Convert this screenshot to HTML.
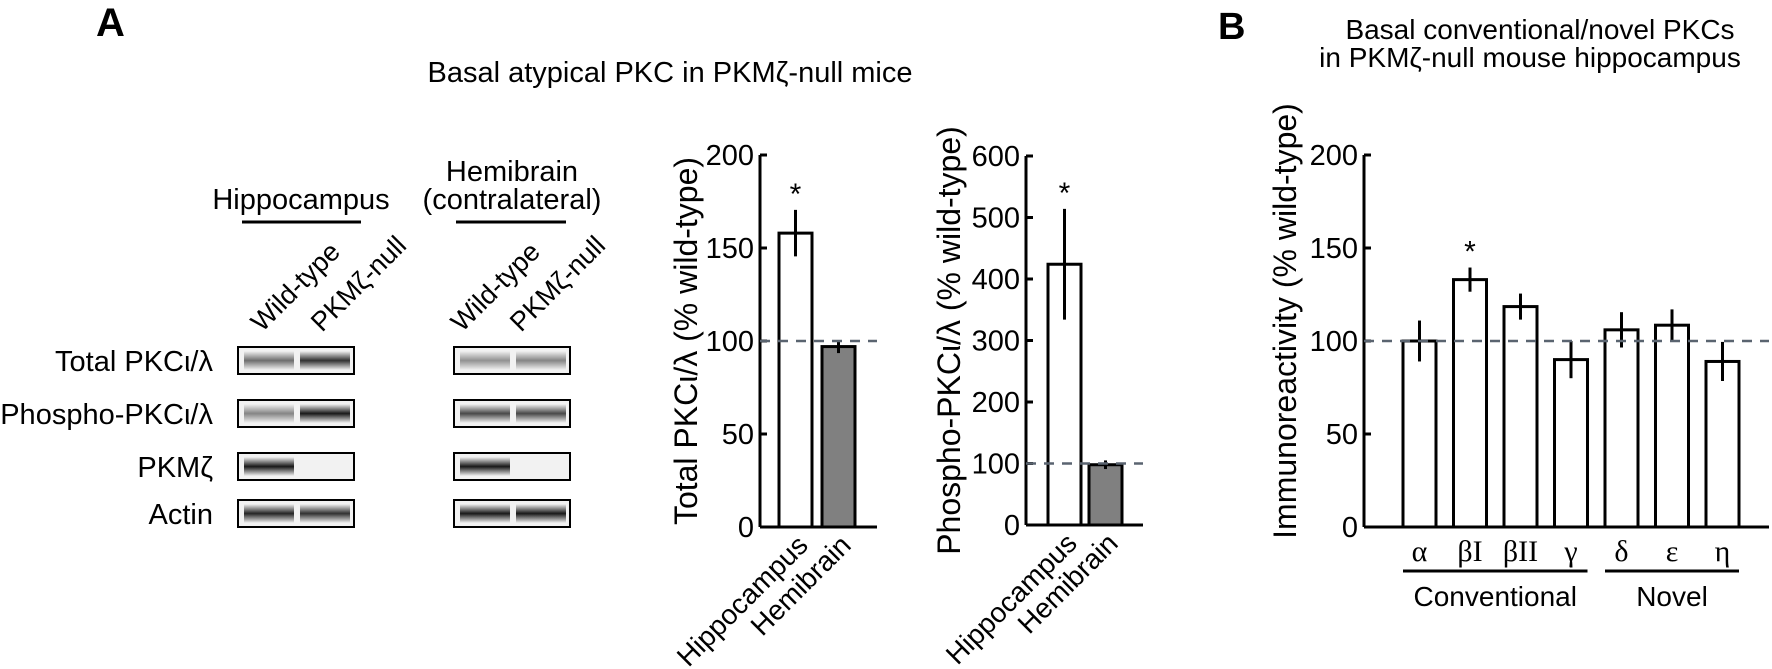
<!DOCTYPE html>
<html><head><meta charset="utf-8"><style>
html,body{margin:0;padding:0;background:#fff;}
svg{display:block;font-family:"Liberation Sans","Noto Sans CJK JP",sans-serif;}
</style></head><body>
<svg id="fig" width="1772" height="669" viewBox="0 0 1772 669" xmlns="http://www.w3.org/2000/svg">
<defs>
<linearGradient id="bandg" x1="0" y1="0" x2="0" y2="1"><stop offset="0" stop-color="#000" stop-opacity="0"/><stop offset="0.5" stop-color="#000" stop-opacity="1"/><stop offset="1" stop-color="#000" stop-opacity="0"/></linearGradient>
</defs>
<text x="96" y="36" font-size="40" font-weight="bold">A</text>
<text x="1218" y="39" font-size="38" font-weight="bold">B</text>
<text x="670" y="82" font-size="29" text-anchor="middle">Basal atypical PKC in PKMζ-null mice</text>
<text x="1540" y="39" font-size="28" text-anchor="middle">Basal conventional/novel PKCs</text>
<text x="1530" y="67" font-size="28" text-anchor="middle">in PKMζ-null mouse hippocampus</text>

<!-- Blots -->
<g id="blots">
<text x="301" y="209" font-size="29" text-anchor="middle">Hippocampus</text>
<line x1="242" y1="222" x2="361" y2="222" stroke="#000" stroke-width="3"/>
<text x="512" y="181" font-size="29" text-anchor="middle">Hemibrain</text>
<text x="512" y="209" font-size="29" text-anchor="middle">(contralateral)</text>
<line x1="456" y1="222" x2="566" y2="222" stroke="#000" stroke-width="3"/>
<text transform="translate(262,333) rotate(-45)" font-size="27">Wild-type</text>
<text transform="translate(322,333) rotate(-45)" font-size="27">PKMζ-null</text>
<text transform="translate(462,333) rotate(-45)" font-size="27">Wild-type</text>
<text transform="translate(521,333) rotate(-45)" font-size="27">PKMζ-null</text>
</g>

<g id="chart1"></g>
<g id="chart2"></g>
<g id="chart3"></g>
</svg>
<script>
// Blot data
const blotRows = ["Total PKCι/λ","Phospho-PKCι/λ","PKMζ","Actin"];
const blotHippo = [[0.55,0.8],[0.45,0.9],[0.9,0.0],[0.85,0.8]];
const blotHemi = [[0.4,0.45],[0.7,0.7],[0.9,0.0],[0.9,0.9]];

// Chart 1
const c1Cats = ["Hippocampus","Hemibrain"];
const c1Vals = [158,97];
const c1Errs = [12.5,3.5];
const c1Ticks = [0,50,100,150,200];
// Chart 2
const c2Cats = ["Hippocampus","Hemibrain"];
const c2Vals = [424,98];
const c2Errs = [90,7];
const c2Ticks = [0,100,200,300,400,500,600];
// Chart 3
const c3Cats = ["α","βI","βII","γ","δ","ε","η"];
const c3Vals = [100,133,118.5,90,106,108.5,89];
const c3Errs = [11,6.5,7,10,9.5,8.5,10.5];
const c3Ticks = [0,50,100,150,200];
const c3Groups = ["Conventional","Novel"];
const c3GroupSpans = [[0,3],[4,6]];

const NS="http://www.w3.org/2000/svg";
function mk(parent,tag,attrs,text){const e=document.createElementNS(NS,tag);for(const k in attrs)e.setAttribute(k,attrs[k]);if(text!==undefined)e.textContent=text;parent.appendChild(e);return e;}

// blots
const blots=document.getElementById('blots');
const rowY=[347,400,453,500];
blotRows.forEach((name,i)=>{
  const t=mk(blots,'text',{x:213,y:rowY[i]+24,'font-size':29,'text-anchor':'end'},name);
  
  
  [[238,blotHippo],[454,blotHemi]].forEach(([bx,data])=>{
    const g=mk(blots,'g',{});
    
    
    mk(g,'rect',{x:bx,y:rowY[i],width:116,height:27,fill:'#f2f2f2',stroke:'#000','stroke-width':2});
    data[i].forEach((d,j)=>{
      if(d>0) mk(g,'rect',{x:bx+6+j*56,y:rowY[i]+4,width:50,height:19,fill:'url(#bandg)','fill-opacity':d});
    });
  });
});

function barChart(gid,o){
  const g=document.getElementById(gid);
  const y=v=>o.y0-(v/o.max)*(o.y0-o.yTop);
  mk(g,'line',{x1:o.ax,y1:o.yTop,x2:o.ax,y2:o.y0,stroke:'#000','stroke-width':3});
  mk(g,'line',{x1:o.ax,y1:o.y0,x2:o.xEnd,y2:o.y0,stroke:'#000','stroke-width':3});
  o.ticks.forEach(t=>{
    mk(g,'line',{x1:o.ax,y1:y(t),x2:o.ax+7,y2:y(t),stroke:'#000','stroke-width':3});
    const l=mk(g,'text',{x:o.ax-6,y:y(t)+10,'font-size':29,'text-anchor':'end'},t);
    
    
  });
  const yt=mk(g,'text',{transform:`translate(${o.titleX},${(o.yTop+o.y0)/2+o.titleDy}) rotate(-90)`,'font-size':o.titleSize,'text-anchor':'middle'},o.title);
  
  
  o.vals.forEach((v,i)=>{
    const x=o.x0+i*o.step;
    const r=mk(g,'rect',{x:x,y:y(v),width:o.bw,height:o.y0-y(v),fill:o.fills[i]||'#fff',stroke:'#000','stroke-width':3});
    
    
    const cx=x+o.bw/2;
    const e=mk(g,'line',{x1:cx,y1:y(v+o.errs[i]),x2:cx,y2:y(v-o.errs[i]),stroke:'#000','stroke-width':3});
    
    
    if(o.stars && o.stars[i]){
      const s=mk(g,'text',{x:cx,y:y(v+o.errs[i])-6,'font-size':30,'text-anchor':'middle'},'*');
      
      
    }
    if(o.rotLabels){
      const l=mk(g,'text',{transform:`translate(${cx+14},${o.y0+20}) rotate(-45)`,'font-size':28,'text-anchor':'end'},o.cats[i]);
      
      
    } else {
      const l=mk(g,'text',{x:cx,y:o.y0+34,'font-size':30,'text-anchor':'middle','font-family':'"Liberation Serif",serif'},o.cats[i]);
      
      
    }
  });
  const d=mk(g,'line',{x1:o.ax,y1:y(100),x2:o.xEnd,y2:y(100),stroke:'#5a6470','stroke-width':2.5,'stroke-dasharray':'10,8'});
  
  
  return {g,y};
}

barChart('chart1',{ax:760,xEnd:877,y0:527,yTop:155,max:200,ticks:c1Ticks,vals:c1Vals,errs:c1Errs,cats:c1Cats,
  x0:779,step:43,bw:33,fills:['#fff','#808080'],stars:[true,false],rotLabels:true,
  title:'Total PKCι/λ (% wild-type)',titleX:697,titleDy:0,titleSize:32});
barChart('chart2',{ax:1026,xEnd:1143,y0:525,yTop:156,max:600,ticks:c2Ticks,vals:c2Vals,errs:c2Errs,cats:c2Cats,
  x0:1048,step:41,bw:33,fills:['#fff','#808080'],stars:[true,false],rotLabels:true,
  title:'Phospho-PKCι/λ (% wild-type)',titleX:960,titleDy:0,titleSize:32});
const c3=barChart('chart3',{ax:1364,xEnd:1769,y0:527,yTop:155,max:200,ticks:c3Ticks,vals:c3Vals,errs:c3Errs,cats:c3Cats,
  x0:1403,step:50.5,bw:33,fills:[],stars:[false,true],rotLabels:false,
  title:'Immunoreactivity (% wild-type)',titleX:1296,titleDy:-20,titleSize:32});
c3GroupSpans.forEach((sp,i)=>{
  const x1=1403+sp[0]*50.5, x2=1403+sp[1]*50.5+33;
  const l=mk(c3.g,'line',{x1:x1,y1:571,x2:x2,y2:571,stroke:'#000','stroke-width':3});
  
  
  const t=mk(c3.g,'text',{x:(x1+x2)/2,y:606,'font-size':28,'text-anchor':'middle'},c3Groups[i]);
  
  
});
</script>
</body></html>
